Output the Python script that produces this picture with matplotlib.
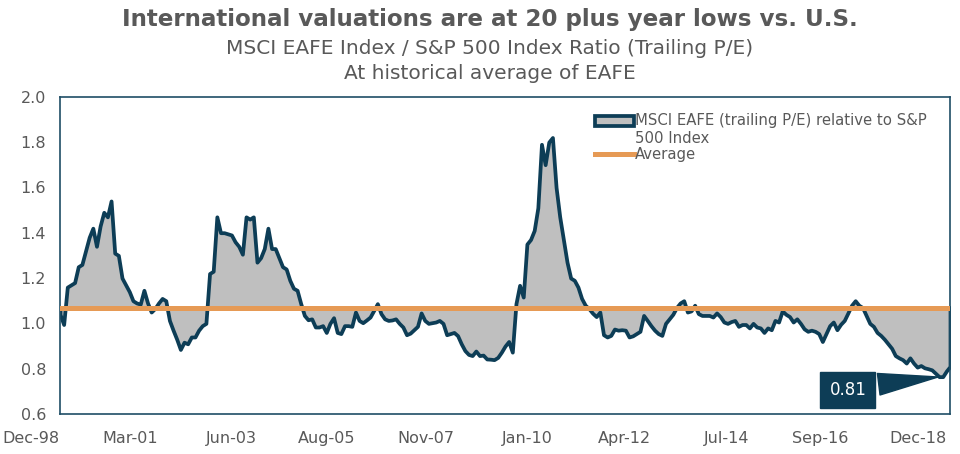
import numpy as np
import matplotlib
matplotlib.use("Agg")
import matplotlib.pyplot as plt
from matplotlib.patches import Patch, Rectangle
from matplotlib.legend_handler import HandlerPatch

# MSCI EAFE / S&P 500 trailing P/E ratio, monthly from Dec-98
ratio = [
    1.04, 0.995, 1.16, 1.17, 1.18, 1.25, 1.26, 1.32, 1.38, 1.42,
    1.34, 1.43, 1.49, 1.47, 1.54, 1.31, 1.30, 1.20, 1.17, 1.14,
    1.10, 1.09, 1.085, 1.146, 1.09, 1.05, 1.066, 1.09, 1.11, 1.10,
    1.013, 0.97, 0.93, 0.885, 0.917, 0.91, 0.94, 0.94, 0.97, 0.99,
    1.0, 1.22, 1.23, 1.47, 1.40, 1.40, 1.395, 1.39, 1.36, 1.34,
    1.305, 1.47, 1.46, 1.47, 1.27, 1.29, 1.33, 1.42, 1.33, 1.33,
    1.29, 1.25, 1.24, 1.19, 1.155, 1.146, 1.087, 1.035, 1.016, 1.02,
    0.984, 0.984, 0.99, 0.96, 1.0, 1.025, 0.96, 0.955, 0.99, 0.99,
    0.987, 1.05, 1.013, 1.003, 1.015, 1.028, 1.057, 1.087, 1.043, 1.02,
    1.013, 1.015, 1.02, 1.0, 0.984, 0.95, 0.957, 0.972, 0.987, 1.046,
    1.013, 1.0, 1.003, 1.006, 1.013, 1.0, 0.95, 0.955, 0.96, 0.946,
    0.91, 0.88, 0.863, 0.858, 0.878, 0.858, 0.86, 0.843, 0.842, 0.84,
    0.85, 0.873, 0.90, 0.92, 0.873, 1.087, 1.168, 1.116, 1.35, 1.37,
    1.41, 1.51, 1.79, 1.70, 1.80, 1.82, 1.60, 1.47, 1.37, 1.27,
    1.20, 1.19, 1.16, 1.11, 1.08, 1.065, 1.045, 1.03, 1.05, 0.95,
    0.94, 0.947, 0.975, 0.97, 0.972, 0.97, 0.94, 0.945, 0.955, 0.965,
    1.035, 1.013, 0.99, 0.97, 0.955, 0.947, 1.0, 1.02, 1.04, 1.07,
    1.09, 1.10, 1.05, 1.055, 1.08, 1.043, 1.035, 1.035, 1.035, 1.028,
    1.046, 1.03, 1.006, 1.0, 1.008, 1.013, 0.987, 0.995, 0.995, 0.98,
    1.0, 0.984, 0.98, 0.96, 0.98, 0.972, 1.013, 1.006, 1.055, 1.04,
    1.03, 1.006, 1.02, 1.0, 0.976, 0.965, 0.97, 0.965, 0.955, 0.92,
    0.955, 0.99, 1.006, 0.972, 0.996, 1.013, 1.046, 1.08, 1.10, 1.08,
    1.07, 1.035, 1.0, 0.987, 0.96, 0.947, 0.93, 0.91, 0.89, 0.858,
    0.848, 0.84, 0.825, 0.848, 0.825, 0.807, 0.814, 0.804, 0.80, 0.795,
    0.78, 0.765, 0.765, 0.79, 0.81,
]
average = 1.07
last_label = "0.81"

tick_labels = ['Dec-98', 'Mar-01', 'Jun-03', 'Aug-05', 'Nov-07',
               'Jan-10', 'Apr-12', 'Jul-14', 'Sep-16', 'Dec-18']

navy = '#0d3d56'
orange = '#e69a55'
grey_fill = '#bfbfbf'
grey_txt = '#595959'

plt.rcParams['font.family'] = ['DejaVu Sans']

x = np.arange(len(ratio))

fig = plt.figure(figsize=(9.6, 4.54), dpi=100)
ax = fig.add_axes([0.0625, 0.088, 0.9271, 0.699])

ax.fill_between(x, ratio, average, facecolor=grey_fill, edgecolor=navy,
                linewidth=2.7, zorder=2)
avg_line = ax.axhline(average, color=orange, linewidth=3.6, zorder=3)

ax.set_xlim(0, len(ratio) - 1)
ax.set_ylim(0.6, 2.0)
yt = np.arange(0.6, 2.01, 0.2)
ax.set_yticks(yt)
ax.set_yticklabels([f'{v:.1f}' for v in yt])
ax.set_xticks(np.arange(0, len(ratio), 27))
ax.set_xticklabels(tick_labels, ha='right')
ax.tick_params(axis='both', length=0, labelsize=11.5, colors=grey_txt)
ax.tick_params(axis='y', pad=10)
ax.tick_params(axis='x', pad=12)
for s in ax.spines.values():
    s.set_color('#1f4e66')
    s.set_linewidth(1.2)

ax.annotate(last_label, xy=(241.5, 0.765), xytext=(216, 0.705),
            ha='center', va='center', color='white', fontsize=12,
            bbox=dict(boxstyle='square,pad=0.55', fc=navy, ec=navy),
            arrowprops=dict(arrowstyle='wedge,tail_width=1.3', fc=navy, ec=navy,
                            relpos=(1.0, 0.75)),
            zorder=5)


# legend patch sits on the first line of the two-line label
def top_patch(legend, orig_handle, xdescent, ydescent, width, height, fontsize):
    return Rectangle((-xdescent, -ydescent + 0.6 * fontsize), width, height)


area_proxy = Patch(facecolor=grey_fill, edgecolor=navy, linewidth=2.7)
leg = ax.legend([area_proxy, avg_line],
                ['MSCI EAFE (trailing P/E) relative to S&P\n500 Index', 'Average'],
                handler_map={Patch: HandlerPatch(patch_func=top_patch)},
                loc='upper left', bbox_to_anchor=(0.601, 0.948), frameon=False,
                fontsize=10.7, handlelength=2.6, handletextpad=0.1,
                labelspacing=0.1, borderpad=0, borderaxespad=0)
for t in leg.get_texts():
    t.set_color(grey_txt)

fig.text(0.51, 0.957, 'International valuations are at 20 plus year lows vs. U.S.',
         ha='center', va='center', fontsize=16.6, fontweight='bold', color=grey_txt)
fig.text(0.51, 0.893, 'MSCI EAFE Index / S&P 500 Index Ratio (Trailing P/E)',
         ha='center', va='center', fontsize=14.5, color=grey_txt)
fig.text(0.51, 0.838, 'At historical average of EAFE',
         ha='center', va='center', fontsize=14.5, color=grey_txt)

fig.savefig('out.png', dpi=100)
